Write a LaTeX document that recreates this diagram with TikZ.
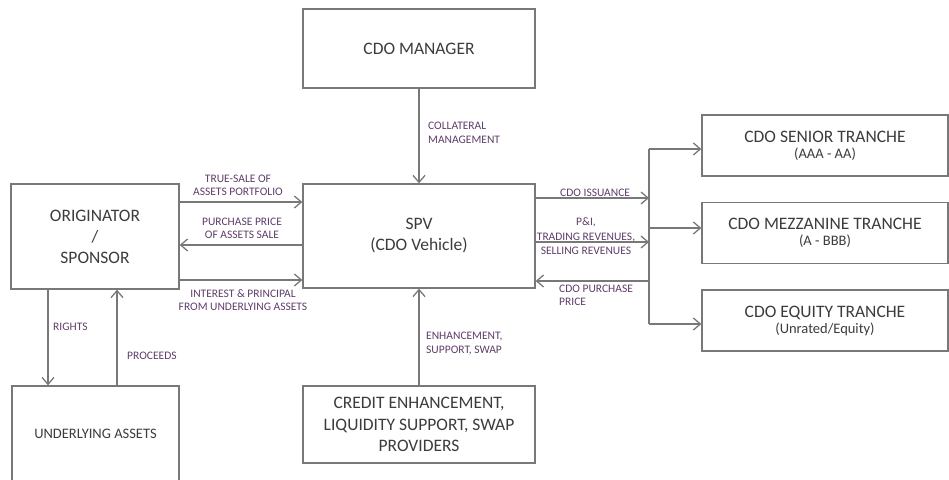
\documentclass[tikz,border=0pt]{standalone}
\usepackage{fontspec}
\setmainfont{Carlito}
\usetikzlibrary{arrows.meta}
\definecolor{linegray}{RGB}{120,120,120}
\definecolor{boxtext}{RGB}{60,60,60}
\definecolor{lbltext}{RGB}{95,60,105}
\begin{document}
\begin{tikzpicture}[x=1pt,y=-1pt,
  box/.style={draw=linegray,line width=1.3pt,fill=white,inner sep=0pt,align=center,text=boxtext,font=\fontsize{17.5}{21}\selectfont},
  tranche/.style={box,minimum width=246pt,minimum height=61pt},
  lbl/.style={text=lbltext,font=\fontsize{11.5}{13.5}\selectfont,inner sep=0pt},
  conn/.style={draw=linegray,line width=1.3pt},
  arr/.style={conn,-{Straight Barb[length=7pt,width=12pt]}}]
\useasboundingbox (0,0) rectangle (949,479);
\clip (0,0) rectangle (949,479);
% boxes
\node[box,minimum width=232pt,minimum height=79pt] (mgr) at (419,48.5) {CDO MANAGER};
\node[box,minimum width=232pt,minimum height=104pt] (spv) at (419,236) {SPV\\(CDO Vehicle)};
\node[box,minimum width=168pt,minimum height=105pt] (orig) at (95,236.5) {ORIGINATOR\\/\\SPONSOR};
\node[box,minimum width=167pt,minimum height=95pt,font=\fontsize{14.5}{17}\selectfont] (ua) at (95.5,433.5) {UNDERLYING ASSETS};
\node[box,minimum width=232pt,minimum height=77pt,font=\fontsize{17.5}{21.5}\selectfont] (ce) at (419,424.5) {CREDIT ENHANCEMENT,\\LIQUIDITY SUPPORT, SWAP\\PROVIDERS};
\node[tranche] (sen) at (825,145.5) {CDO SENIOR TRANCHE\\[-5pt]{\fontsize{14.5}{16}\selectfont (AAA - AA)}};
\node[tranche] (mez) at (825,233) {CDO MEZZANINE TRANCHE\\[-5pt]{\fontsize{14.5}{16}\selectfont (A - BBB)}};
\node[tranche] (eq) at (825,320.5) {CDO EQUITY TRANCHE\\[-5pt]{\fontsize{14.5}{16}\selectfont (Unrated/Equity)}};
% helper coordinates
\coordinate (xr) at (48,0);
\coordinate (xp) at (117,0);
\coordinate (y1) at (0,202);
\coordinate (y2) at (0,245);
\coordinate (y3) at (0,280);
\coordinate (b1) at (649,149);
\coordinate (b2) at (649,198);
\coordinate (b3) at (649,228);
\coordinate (b4) at (649,242);
\coordinate (b5) at (649,281);
\coordinate (b6) at (649,324);
% connectors
\draw[arr] (mgr) -- (spv);
\draw[arr] (ce) -- (spv);
\draw[arr] (orig.south -| xr) -- (ua.north -| xr);
\draw[arr] (ua.north -| xp) -- (orig.south -| xp);
\draw[arr] (orig.east |- y1) -- (spv.west |- y1);
\draw[arr] (spv.west |- y2) -- (orig.east |- y2);
\draw[arr] (orig.east |- y3) -- (spv.west |- y3);
\draw[conn] (b1) -- (b6);
\draw[arr] (spv.east |- b2) -- (b2);
\draw[arr] (spv.east |- b4) -- (b4);
\draw[arr] (b5) -- (spv.east |- b5);
\draw[arr] (b1) -- (sen.west |- b1);
\draw[arr] (b3) -- (mez.west |- b3);
\draw[arr] (b6) -- (eq.west |- b6);
% labels
\node[lbl,align=center] (l1) at (238,185.5) {TRUE-SALE OF\\ASSETS PORTFOLIO};
\node[lbl,align=center] (l2) at (242,228.5) {PURCHASE PRICE\\OF ASSETS SALE};
\node[lbl,align=center] (l3) at (243,300) {INTEREST \& PRINCIPAL\\FROM UNDERLYING ASSETS};
\node[lbl,align=left,anchor=west] (l4) at (428,133) {COLLATERAL\\MANAGEMENT};
\node[lbl,align=left,anchor=west] (l5) at (426,343.5) {ENHANCEMENT,\\SUPPORT, SWAP};
\node[lbl,anchor=west] (l6) at (53,327) {RIGHTS};
\node[lbl,anchor=west] (l7) at (127,356) {PROCEEDS};
\node[lbl,anchor=west] (l8) at (560,193) {CDO ISSUANCE};
\node[lbl,align=center,font=\fontsize{11.5}{14.5}\selectfont] (l9) at (586,236.5) {P\&I,\\TRADING REVENUES,\\SELLING REVENUES};
\node[lbl,align=left,anchor=west] (l10) at (559,295.5) {CDO PURCHASE\\PRICE};
\end{tikzpicture}
\end{document}
